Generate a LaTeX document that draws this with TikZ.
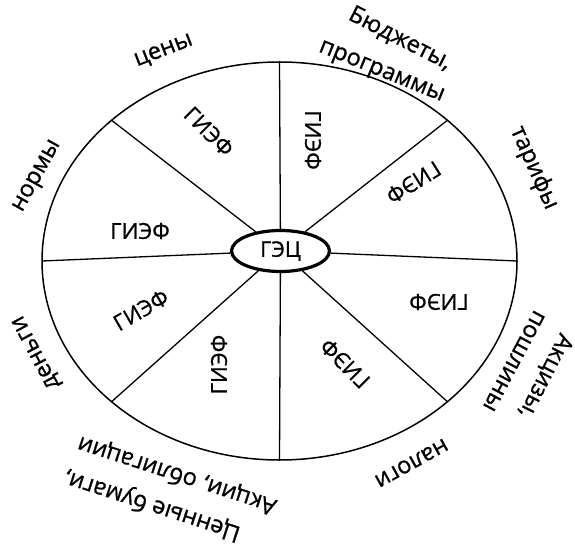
\documentclass[tikz,border=0pt]{standalone}
\usepackage{fontspec}
\setmainfont{Open Sans}[RawFeature={embolden=0.8}]
\usetikzlibrary{shapes.geometric}
\begin{document}
\begin{tikzpicture}[x=1pt,y=-1pt,
  rim/.style={line width=1.5pt},
  spoke/.style={line width=1.3pt},
  hub/.style={ellipse, draw, line width=3.2pt, fill=white, minimum width=98pt, minimum height=41pt, inner sep=0pt, font=\fontsize{21.5}{24}\selectfont},
  sect/.style={font=\fontsize{22}{26}\selectfont, inner sep=0pt},
  outlbl/.style={font=\fontsize{23.5}{28}\selectfont, inner sep=0pt}]
\useasboundingbox (0,0) rectangle (575,545);
\fill[white] (0,0) rectangle (575,545);
\draw[rim] (279.5,261) ellipse [x radius=237.5pt, y radius=199pt];
\coordinate (e0) at (517,261);
\coordinate (e1) at (447.4,120.3);
\coordinate (e2) at (279.5,62);
\coordinate (e3) at (111.6,120.3);
\coordinate (e4) at (42,261);
\coordinate (e5) at (111.6,401.7);
\coordinate (e6) at (279.5,460);
\coordinate (e7) at (447.4,401.7);
\node[hub] (c) at (280.5,251) {ГЭЦ};
\foreach \i in {0,...,7} \draw[spoke] (c) -- (e\i);
% sector labels
\node[sect, rotate=0]    (s0) at (140,231)   {ГИЭФ};
\node[sect, rotate=-45]  (s1) at (209,131.5) {ГИЭФ};
\node[sect, rotate=-90]  (s2) at (313,140)   {ГИЭФ};
\node[sect, rotate=-148] (s3) at (413.5,182.5) {ГИЭФ};
\node[sect, rotate=180]  (s4) at (439,302)   {ГИЭФ};
\node[sect, rotate=135]  (s5) at (345,363.5) {ГИЭФ};
\node[sect, rotate=90]   (s6) at (219,364.6) {ГИЭФ};
\node[sect, rotate=30]   (s7) at (141,310)   {ГИЭФ};
% outer labels
\node[outlbl, rotate=21]   (o1) at (164,51.5) {цены};
\node[outlbl, rotate=-27]  (o2a) at (400,39)  {Бюджеты,};
\node[outlbl, rotate=-22]  (o2b) at (381,73)  {программы};
\node[outlbl, rotate=-66]  (o3) at (534,168)  {тарифы};
\node[outlbl, rotate=-117] (o4a) at (545,376) {Акцизы,};
\node[outlbl, rotate=-118] (o4b) at (514,361) {пошлины};
\node[outlbl, rotate=-151] (o5) at (411.5,463) {налоги};
\node[outlbl, rotate=162]  (o6b) at (177,475) {Акции, облигации};
\node[outlbl, rotate=162]  (o6a) at (152,505) {Ценные бумаги,};
\node[outlbl, rotate=118]  (o7) at (37,352)   {деньги};
\node[outlbl, rotate=61]   (o8) at (38,176.5) {нормы};
\end{tikzpicture}
\end{document}
